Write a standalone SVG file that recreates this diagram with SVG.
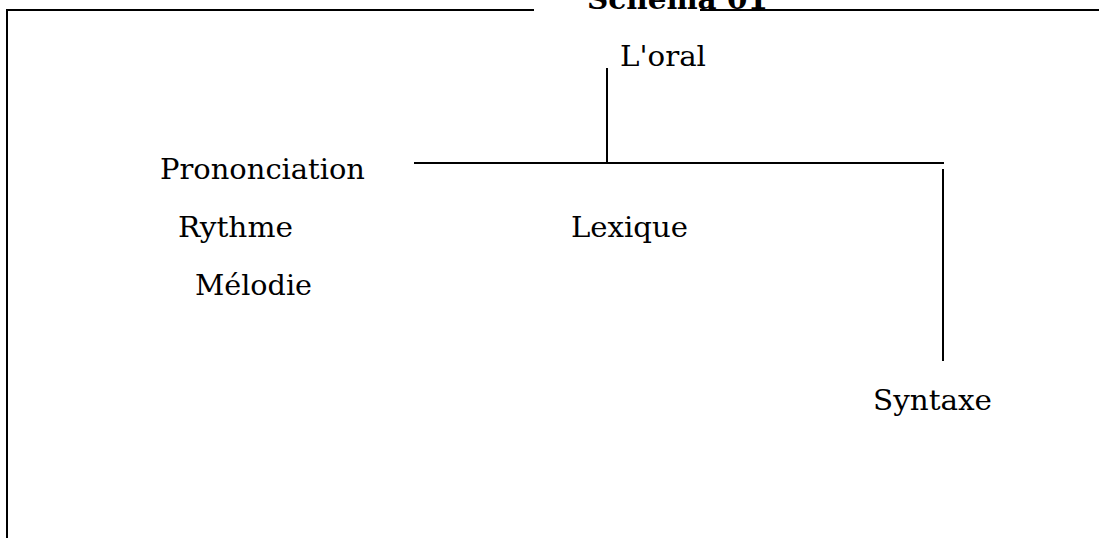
<svg xmlns="http://www.w3.org/2000/svg" width="1099" height="543" viewBox="0 0 1099 543">
<style>
.t{font-family:"DejaVu Serif","Liberation Serif",serif;font-size:28px;fill:#000}
.b{font-weight:bold}
.l{stroke:#000;stroke-width:2;fill:none}
</style>
<rect width="1099" height="543" fill="#fff"/>
<g id="frame">
<path class="l" d="M7,538 V10 H534"/>
<path class="l" d="M700,10 H1099"/>
<text class="t b" x="587" y="9" textLength="181" lengthAdjust="spacingAndGlyphs">Schema 01</text>
</g>
<g id="connectors">
<path class="l" d="M607,68 V162"/>
<path class="l" d="M414,163 H944"/>
<path class="l" d="M943,169 V361"/>
</g>
<g id="node-oral"><text class="t" x="620" y="66" textLength="86" lengthAdjust="spacingAndGlyphs">L'oral</text></g>
<g id="node-prononciation"><text class="t" x="160" y="179" textLength="205" lengthAdjust="spacingAndGlyphs">Prononciation</text></g>
<g id="node-rythme"><text class="t" x="178" y="237" textLength="115" lengthAdjust="spacingAndGlyphs">Rythme</text></g>
<g id="node-melodie"><text class="t" x="195" y="295" textLength="117" lengthAdjust="spacingAndGlyphs">Mélodie</text></g>
<g id="node-lexique"><text class="t" x="571" y="237" textLength="117" lengthAdjust="spacingAndGlyphs">Lexique</text></g>
<g id="node-syntaxe"><text class="t" x="873" y="410" textLength="119" lengthAdjust="spacingAndGlyphs">Syntaxe</text></g>
</svg>
